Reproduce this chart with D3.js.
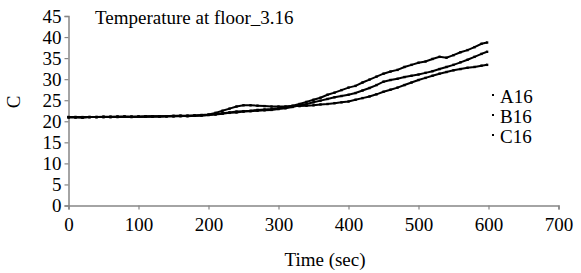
<!DOCTYPE html>
<html>
<head>
<meta charset="utf-8">
<script src="https://cdn.jsdelivr.net/npm/d3@7"></script>
<style>
  body { margin: 0; background: #fff; }
</style>
</head>
<body>
<div class="visual"></div>
<script>
const width = 581;
const height = 273;
const serif = "Liberation Serif";

const time = [0, 10, 20, 30, 40, 50, 60, 70, 80, 90, 100, 110, 120, 130, 140, 150, 160, 170, 180, 190,
  200, 210, 220, 230, 240, 250, 260, 270, 280, 290, 300, 310, 320, 330, 340, 350, 360, 370, 380, 390,
  400, 410, 420, 430, 440, 450, 460, 470, 480, 490, 500, 510, 520, 530, 540, 550, 560, 570, 580, 590, 598];

const a16 = [21.0, 21.0, 20.9, 21.0, 21.0, 21.1, 21.0, 21.1, 21.1, 21.0, 21.1, 21.1, 21.2, 21.1, 21.2, 21.2, 21.3, 21.2, 21.3, 21.4,
  21.5, 21.7, 21.9, 22.1, 22.3, 22.4, 22.5, 22.7, 22.8, 22.9, 23.1, 23.4, 23.7, 24.1, 24.6, 25.1, 25.6, 26.3, 26.8, 27.4,
  28.0, 28.4, 29.2, 29.9, 30.6, 31.3, 31.8, 32.2, 32.9, 33.4, 33.9, 34.2, 34.8, 35.3, 35.1, 35.7, 36.4, 36.9, 37.6, 38.4, 38.7];

const b16 = [20.9, 20.9, 20.9, 21.0, 21.0, 21.0, 21.0, 21.0, 21.1, 21.1, 21.1, 21.1, 21.1, 21.2, 21.2, 21.2, 21.2, 21.3, 21.3, 21.4,
  21.5, 21.6, 21.8, 22.0, 22.1, 22.3, 22.4, 22.5, 22.6, 22.7, 22.9, 23.1, 23.4, 23.8, 24.1, 24.5, 24.9, 25.3, 25.7, 26.0,
  26.3, 26.7, 27.3, 27.9, 28.6, 29.4, 29.8, 30.1, 30.5, 30.8, 31.1, 31.5, 31.9, 32.4, 32.9, 33.4, 34.0, 34.6, 35.3, 36.0, 36.5];

const c16 = [21.0, 21.0, 21.0, 21.0, 21.0, 21.0, 21.1, 21.1, 21.1, 21.1, 21.1, 21.2, 21.2, 21.2, 21.2, 21.3, 21.3, 21.3, 21.4, 21.5,
  21.6, 22.0, 22.5, 23.0, 23.5, 23.8, 23.8, 23.7, 23.6, 23.5, 23.5, 23.5, 23.6, 23.6, 23.7, 23.8, 24.0, 24.1, 24.3, 24.5,
  24.7, 25.1, 25.5, 25.9, 26.4, 27.0, 27.5, 28.0, 28.6, 29.2, 29.8, 30.3, 30.8, 31.3, 31.7, 32.1, 32.4, 32.7, 32.9, 33.2, 33.4];

const seriesNames = ["A16", "B16", "C16"];
const xTicks = [0, 100, 200, 300, 400, 500, 600, 700];
const yTicks = [0, 5, 10, 15, 20, 25, 30, 35, 40, 45];

const svg = d3
  .select(".visual")
  .append("svg")
  .attr("width", width)
  .attr("height", height)
  .attr("font-family", serif)
  .attr("font-size", 19);

const x = d3.scaleLinear().domain([0, 700]).range([68.5, 558.5]);
const y = d3.scaleLinear().domain([0, 45]).range([205.5, 16]);

const axisColor = "#868686";

// y axis
const yAxis = svg
  .append("g")
  .attr("transform", `translate(${x(0)},0)`)
  .call(d3.axisLeft(y).tickValues(yTicks).tickSize(4).tickPadding(3));
yAxis.attr("font-family", serif).attr("font-size", 19);
yAxis.select(".domain").attr("stroke", axisColor).attr("stroke-width", 1.5);
yAxis.selectAll(".tick line").attr("stroke", axisColor).attr("stroke-width", 1.2);
yAxis.selectAll("text").attr("fill", "#000");

// x axis
const xAxis = svg
  .append("g")
  .attr("transform", `translate(0,${y(0)})`)
  .call(d3.axisBottom(x).tickValues(xTicks).tickSize(4).tickPadding(8));
xAxis.attr("font-family", serif).attr("font-size", 19);
xAxis.select(".domain").attr("stroke", axisColor).attr("stroke-width", 1.5);
xAxis.selectAll(".tick line").attr("stroke", axisColor).attr("stroke-width", 1.2);
xAxis.selectAll("text").attr("fill", "#000");

// series
const allSeries = [a16, b16, c16];
const line = d3
  .line()
  .x((d, i) => x(time[i]))
  .y((d) => y(d));

allSeries.forEach((s) => {
  svg
    .append("path")
    .datum(s)
    .attr("fill", "none")
    .attr("stroke", "#000")
    .attr("stroke-width", 2)
    .attr("d", line);

  svg
    .append("g")
    .selectAll("rect")
    .data(s)
    .enter()
    .append("rect")
    .attr("x", (d, i) => x(time[i]) - 1.2)
    .attr("y", (d) => y(d) - 1.2)
    .attr("width", 2.4)
    .attr("height", 2.4)
    .attr("fill", "#000");
});

// title
svg
  .append("text")
  .attr("x", 95)
  .attr("y", 24)
  .text("Temperature at floor_3.16");

// axis titles
svg
  .append("text")
  .attr("x", 325)
  .attr("y", 266)
  .attr("text-anchor", "middle")
  .text("Time (sec)");

svg
  .append("text")
  .attr("transform", "translate(20,102) rotate(-90)")
  .attr("text-anchor", "middle")
  .text("C");

// legend
const legend = svg
  .selectAll(".legend")
  .data(seriesNames)
  .enter()
  .append("g")
  .attr("class", "legend")
  .attr("transform", (d, i) => `translate(493,${97 + i * 20})`);

legend
  .append("rect")
  .attr("x", -1)
  .attr("y", -3)
  .attr("width", 2)
  .attr("height", 2)
  .attr("fill", "#000");

legend
  .append("text")
  .attr("x", 7)
  .attr("y", 6)
  .text((d) => d);
</script>
</body>
</html>
